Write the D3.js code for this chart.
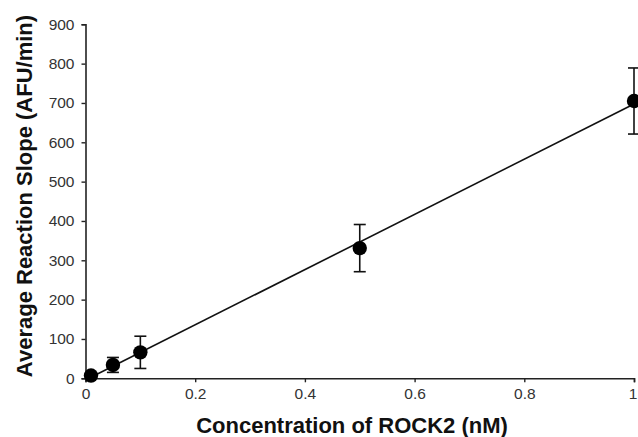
<!DOCTYPE html>
<html>
<head>
<meta charset="utf-8">
<script src="https://cdn.jsdelivr.net/npm/d3@7"></script>
<style>
  html, body { margin: 0; padding: 0; background: #fff; }
  svg { display: block; font-family: "Liberation Sans", Arial, sans-serif; }
</style>
</head>
<body>
<svg id="chart" width="638" height="437"></svg>
<script>
// Data
const concentrations = [0.01, 0.05, 0.1, 0.5, 1.0];
const slopes = [7, 34, 66, 331, 705];
const errors = [5, 19, 41, 60, 84];
const xTicks = [0, 0.2, 0.4, 0.6, 0.8, 1];
const yTicks = [0, 100, 200, 300, 400, 500, 600, 700, 800, 900];
const xTitle = "Concentration of ROCK2 (nM)";
const yTitle = "Average Reaction Slope (AFU/min)";

const svg = d3.select("#chart");
const mLeft = 85.5, mRight = 634, mTop = 24.3, mBottom = 378.3;

const x = d3.scaleLinear().domain([0, 1]).range([mLeft, mRight]);
const y = d3.scaleLinear().domain([0, 900]).range([mBottom, mTop]);

// axes
const xAxis = d3.axisBottom(x).tickValues(xTicks).tickSize(4).tickPadding(6)
  .tickFormat(d => d3.format("")(d));
const yAxis = d3.axisLeft(y).tickValues(yTicks).tickSize(4).tickPadding(7);

const gx = svg.append("g").attr("transform", `translate(0,${mBottom})`).call(xAxis);
const gy = svg.append("g").attr("transform", `translate(${mLeft},0)`).call(yAxis);
[gx, gy].forEach(g => {
  g.select(".domain").attr("stroke", "#222").attr("stroke-width", 1.6);
  g.selectAll(".tick line").attr("stroke", "#222").attr("stroke-width", 1.4);
  g.selectAll(".tick text").attr("fill", "#333").attr("font-size", 15.5)
    .attr("font-family", '"Liberation Sans", Arial, sans-serif');
});
// keep the last x label inside the picture
gx.selectAll(".tick text").filter(d => d === 1).attr("dx", -1.5);

// regression line (least squares from data)
const n = concentrations.length;
const mx = d3.mean(concentrations), my = d3.mean(slopes);
let sxy = 0, sxx = 0;
for (let i = 0; i < n; i++) {
  sxy += (concentrations[i] - mx) * (slopes[i] - my);
  sxx += (concentrations[i] - mx) ** 2;
}
const k = sxy / sxx, b = my - k * mx;
const lineX = d3.extent(concentrations);
svg.append("path")
  .datum(lineX.map(v => [v, k * v + b]))
  .attr("d", d3.line().x(d => x(d[0])).y(d => y(d[1])))
  .attr("stroke", "#111").attr("stroke-width", 1.6).attr("fill", "none");

// error bars
const pts = concentrations.map((c, i) => ({ c, v: slopes[i], e: errors[i] }));
const eb = svg.append("g").attr("stroke", "#111").attr("stroke-width", 1.6);
pts.forEach(p => {
  eb.append("line").attr("x1", x(p.c)).attr("x2", x(p.c))
    .attr("y1", y(p.v - p.e)).attr("y2", y(p.v + p.e));
  [p.v - p.e, p.v + p.e].forEach(v => {
    eb.append("line").attr("x1", x(p.c) - 6).attr("x2", x(p.c) + 6)
      .attr("y1", y(v)).attr("y2", y(v));
  });
});

// points
svg.append("g").selectAll("circle").data(pts).join("circle")
  .attr("cx", d => x(d.c)).attr("cy", d => y(d.v)).attr("r", 7.2)
  .attr("fill", "#000");

// titles
svg.append("text").attr("x", 352).attr("y", 433)
  .attr("text-anchor", "middle").attr("font-size", 22).attr("font-weight", "bold")
  .attr("fill", "#111").text(xTitle);
svg.append("text")
  .attr("transform", `translate(32,196) rotate(-90)`)
  .attr("text-anchor", "middle").attr("font-size", 22).attr("font-weight", "bold")
  .attr("fill", "#111").text(yTitle);
</script>
</body>
</html>
